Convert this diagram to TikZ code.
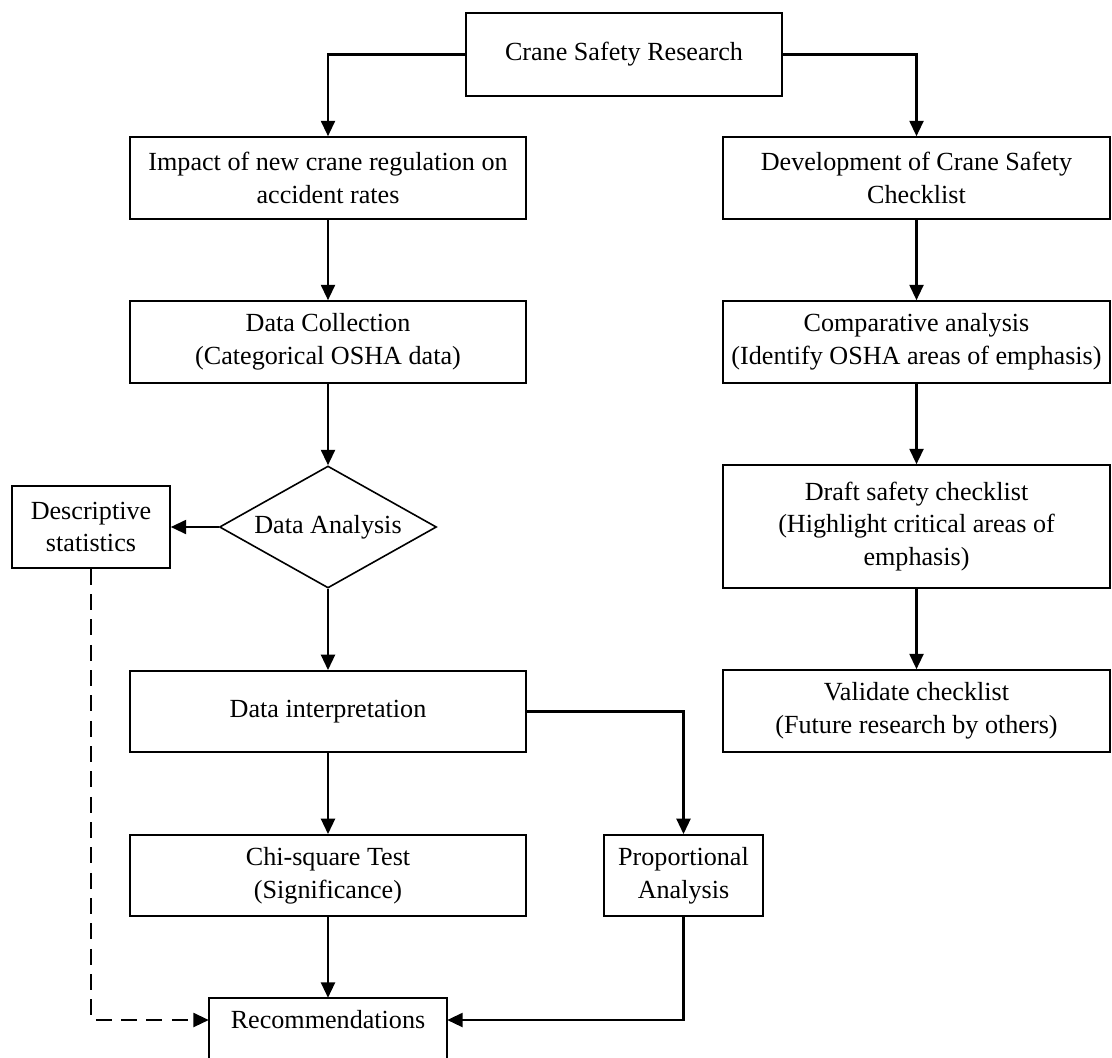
\documentclass[tikz,border=0pt]{standalone}
\usepackage{fontspec}
\setmainfont{Liberation Serif}
\usetikzlibrary{arrows.meta,shapes.geometric}
\begin{document}
\begin{tikzpicture}[x=0.75pt,y=-0.75pt,
  txt/.style={align=center, inner sep=0pt, font=\fontsize{19.6}{24.5}\selectfont},
  box/.style={txt, draw, line width=1.2pt},
  arr/.style={line width=1.6pt, -{Triangle[length=11.5pt,width=10.5pt]}},
  dasharr/.style={arr, dash pattern=on 12pt off 7pt},
]
\useasboundingbox (0,0) rectangle (1112,1057);
\clip (0,0) rectangle (1112,1057);
\fill[white] (0,0) rectangle (1112,1057);

% top
\node[box, minimum width=237pt, minimum height=62.25pt] (crane) at (624,54.5) {Crane Safety Research};

% left column
\node[box, minimum width=297pt, minimum height=61.5pt] (impact) at (328,178) {Impact of new crane regulation on\\accident rates};
\node[box, minimum width=297pt, minimum height=61.5pt] (dc) at (328,342) {Data Collection\\(Categorical OSHA data)};
\node[box, diamond, aspect=1.78, minimum width=162.75pt, minimum height=91.5pt] (da) at (328,527) {Data Analysis};
\node[box, minimum width=118.5pt, minimum height=61.5pt] (desc) at (91,527) {Descriptive\\statistics};
\node[box, minimum width=297pt, minimum height=61pt] (di) at (328,711.5) {Data interpretation};
\node[box, minimum width=297pt, minimum height=61pt] (chi) at (328,875.5) {Chi-square Test\\(Significance)};
\node[box, minimum width=119.25pt, minimum height=61pt] (prop) at (683.5,875.5) {Proportional\\Analysis};
\node[txt, minimum width=178.5pt, minimum height=33pt] (rec) at (328,1020) {Recommendations};
\draw[line width=1.2pt] ([yshift=-40pt]rec.south west) -- (rec.north west) -- (rec.north east) -- ([yshift=-40pt]rec.south east);

% right column
\node[box, minimum width=290.25pt, minimum height=61.5pt] (dev) at (916.5,178) {Development of Crane Safety\\Checklist};
\node[box, minimum width=290.25pt, minimum height=61.5pt] (comp) at (916.5,342) {Comparative analysis\\(Identify OSHA areas of emphasis)};
\node[box, minimum width=290.25pt, minimum height=92.25pt] (draft) at (916.5,526.5) {Draft safety checklist\\(Highlight critical areas of\\emphasis)};
\node[box, minimum width=290.25pt, minimum height=61.5pt] (val) at (916.5,711) {Validate checklist\\(Future research by others)};

% connectors
\draw[arr] (crane.west) -| (impact.north);
\draw[arr] (crane.east) -| (dev.north);
\draw[arr] (impact.south) -- (dc.north);
\draw[arr] (dc.south) -- (da.north);
\draw[arr] (da.west) -- (desc.east);
\draw[arr] (da.south) -- (di.north);
\draw[arr] (di.south) -- (chi.north);
\draw[arr] (di.east) -| (prop.north);
\draw[arr] (chi.south) -- (rec.north);
\draw[arr] (prop.south) |- (rec.east);
\draw[dasharr] (desc.south) |- (rec.west);
\draw[arr] (dev.south) -- (comp.north);
\draw[arr] (comp.south) -- (draft.north);
\draw[arr] (draft.south) -- (val.north);
\end{tikzpicture}
\end{document}
